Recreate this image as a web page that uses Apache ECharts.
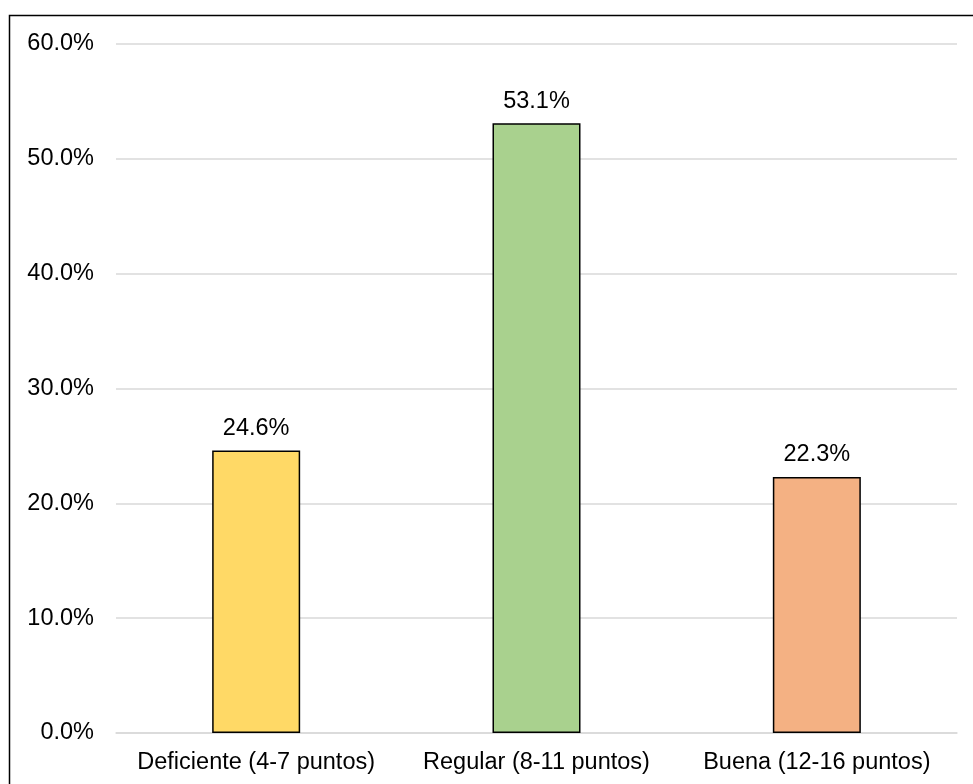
<!DOCTYPE html>
<html>
<head>
<meta charset="utf-8">
<script src="https://cdn.jsdelivr.net/npm/echarts@6/dist/echarts.min.js"></script>
<style>
html,body{margin:0;padding:0;background:#fff;}
#chart{width:973px;height:784px;}
</style>
</head>
<body>
<div id="chart"></div>
<script>
const categories = ['Deficiente (4-7 puntos)', 'Regular (8-11 puntos)', 'Buena (12-16 puntos)'];
const values = [24.6, 53.1, 22.3];
const colors = ['#FFD966', '#A9D18E', '#F4B183'];
const yTicks = { min: 0, max: 60, interval: 10 };

const FONT = 'Liberation Sans, Arial, sans-serif';
const chart = echarts.init(document.getElementById('chart'), null, { renderer: 'canvas' });
chart.setOption({
  animation: false,
  backgroundColor: '#fff',
  graphic: [{
    type: 'rect',
    shape: { x: 9.5, y: 15.5, width: 1000, height: 1000 },
    style: { fill: 'none', stroke: '#000', lineWidth: 1.5 },
    silent: true
  }],
  grid: { left: 116, right: 16, top: 44, bottom: 51, containLabel: false },
  xAxis: {
    type: 'category',
    data: categories,
    axisTick: { show: false },
    axisLine: { show: true, lineStyle: { color: '#d9d9d9', width: 1.5 } },
    axisLabel: { color: '#000', fontFamily: FONT, fontSize: 23.5, margin: 18, interval: 0 }
  },
  yAxis: {
    type: 'value',
    min: yTicks.min, max: yTicks.max, interval: yTicks.interval,
    axisLine: { show: false },
    axisTick: { show: false },
    splitLine: { lineStyle: { color: '#d9d9d9', width: 1.5 } },
    axisLabel: {
      color: '#000', fontFamily: FONT, fontSize: 23.5, margin: 22,
      formatter: v => v.toFixed(1) + '%'
    }
  },
  series: [{
    type: 'bar',
    data: values.map((v, i) => ({ value: v, itemStyle: { color: colors[i] } })),
    barWidth: 88,
    itemStyle: { borderColor: '#000', borderWidth: 1.5 },
    label: {
      show: true, position: 'top', distance: 10,
      color: '#000', fontFamily: FONT, fontSize: 23.5,
      formatter: p => p.value.toFixed(1) + '%'
    }
  }]
});
</script>
</body>
</html>
